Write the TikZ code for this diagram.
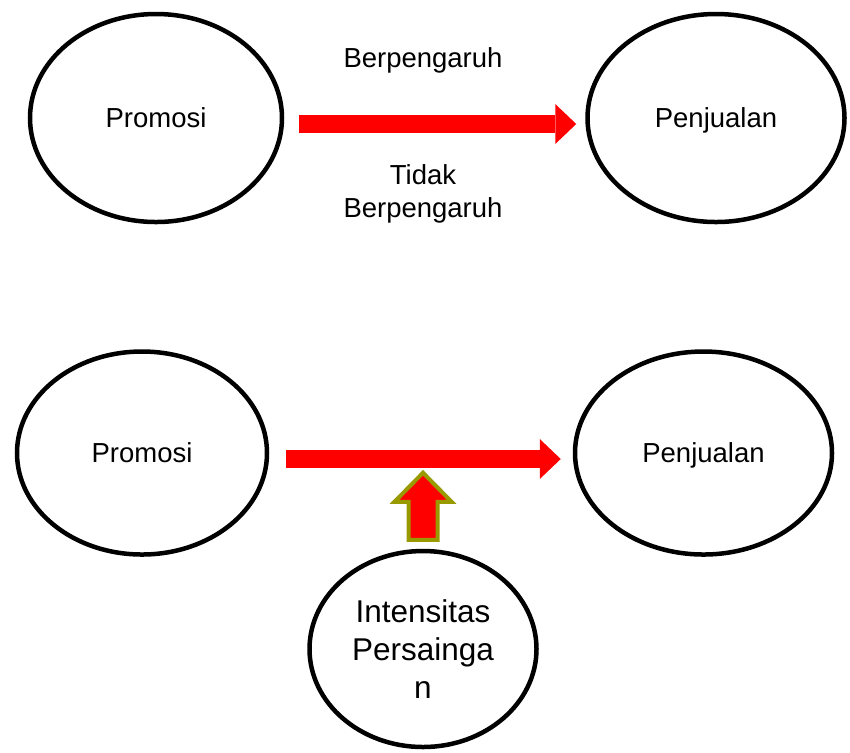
\documentclass[tikz,border=0pt]{standalone}
\usepackage{fontspec}
\setmainfont{Liberation Sans}
\usetikzlibrary{shapes.geometric, arrows.meta, calc}
\definecolor{modolive}{RGB}{153,153,0}

\tikzset{
  var/.style={ellipse, draw, line width=2.25pt, inner sep=0pt, text depth=0pt,
    font=\fontsize{13.75pt}{16.5pt}\selectfont},
  lbl/.style={align=center, font=\fontsize{13.75pt}{16.5pt}\selectfont},
  bigarrow/.style={red, line width=9pt,
    -{Triangle[width=20pt, length=10.5pt, line width=0pt]}},
  modarrow/.style={fill=red, draw=modolive, line width=2pt, line join=miter},
}

\begin{document}
\begin{tikzpicture}[x=0.5pt, y=-0.5pt]
  \useasboundingbox (0,0) rectangle (850,752);

  % Top model: direct effect
  \node[var, minimum width=126pt, minimum height=104pt] (p1) at (156,118) {Promosi};
  \node[var, minimum width=128.5pt, minimum height=104pt] (j1) at (716,118) {Penjualan};
  \draw[bigarrow] ($(p1.east)+(15,6)$) -- ($(j1.west)+(-9,6)$);
  \node[lbl] (b1) at (423,60) {Berpengaruh};
  \node[lbl] (t1) at (423,194) {Tidak\\Berpengaruh};

  % Bottom model: with moderator
  \node[var, minimum width=125pt, minimum height=101.5pt] (p2) at (142,453) {Promosi};
  \node[var, minimum width=128.5pt, minimum height=101.5pt] (j2) at (703.5,453) {Penjualan};
  \draw[bigarrow] ($(p2.east)+(17,6)$) -- ($(j2.west)+(-12,6)$);

  % Moderator
  \node[var, minimum width=113.5pt, minimum height=98pt, align=center,
    font=\fontsize{15.75pt}{19pt}\selectfont] (i) at (423,649) {Intensitas\\Persainga\\n};
  \filldraw[modarrow] ($(i.north)+(-14.5,-9)$) -- ++(0,-38) -- ++(-14,0)
    -- ++(28.5,-29) -- ++(28.5,29) -- ++(-14,0) -- ++(0,38) -- cycle;

\end{tikzpicture}
\end{document}
